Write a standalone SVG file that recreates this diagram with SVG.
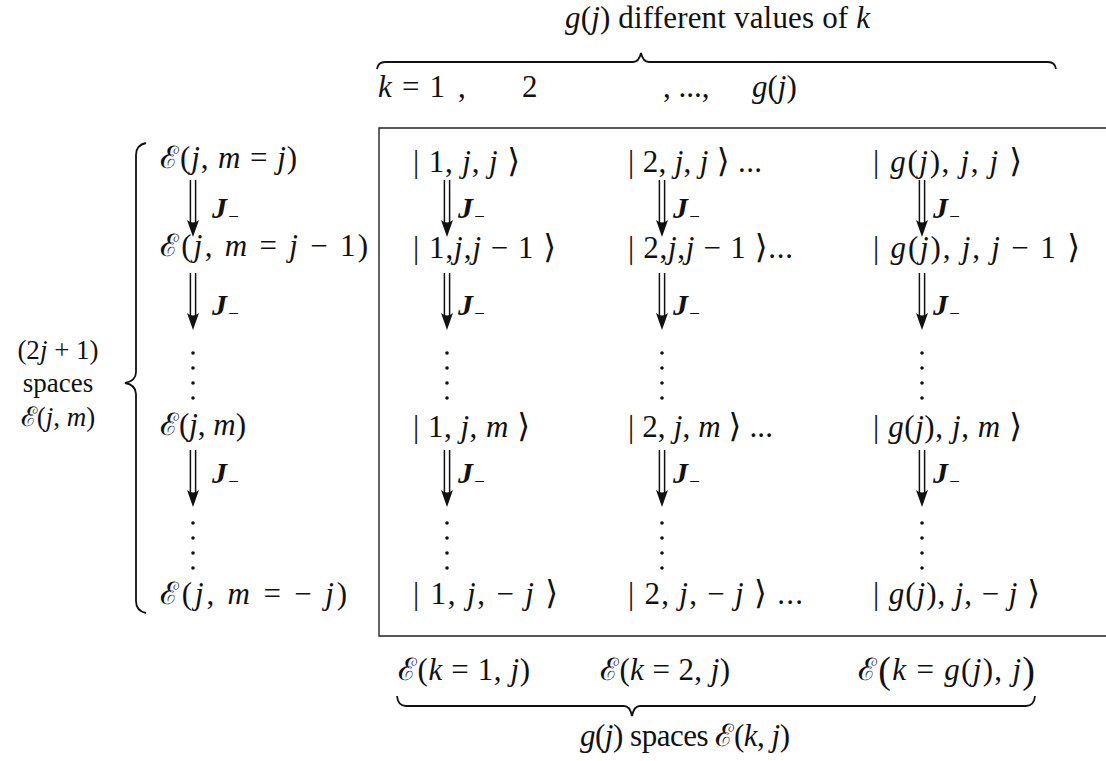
<svg xmlns="http://www.w3.org/2000/svg" width="1106" height="761" viewBox="0 0 1106 761">
<style>
text{font-family:"Liberation Serif","DejaVu Serif",serif;font-size:31px;fill:#111}
.i{font-style:italic}
.J{font-style:italic;font-weight:bold;font-size:30px}
.s{font-size:19px;font-weight:normal}
.k{font-size:33px}
.lab{font-size:27px}
.br{fill:none;stroke:#111;stroke-width:1.8}
.box{fill:none;stroke:#222;stroke-width:1.4}
.ar{fill:none;stroke:#111;stroke-width:1.5}
.ah{fill:#111;stroke:none}
.dot{fill:#111}
</style>
<defs>
<g id="dbl">
<line x1="-2.6" y1="0" x2="-2.6" y2="44" class="ar"/>
<line x1="2.6" y1="0" x2="2.6" y2="44" class="ar"/>
<path d="M-6,40 L0,57 L6,40 Q0,45 -6,40 Z" class="ah"/>
</g>
<g id="dots4">
<circle cx="0" cy="0" r="1.8" class="dot"/>
<circle cx="0" cy="15" r="1.8" class="dot"/>
<circle cx="0" cy="30" r="1.8" class="dot"/>
<circle cx="0" cy="45" r="1.8" class="dot"/>
</g>
</defs>

<g id="top-label">
<text x="565" y="28" textLength="305"><tspan class="i">g</tspan>(<tspan class="i">j</tspan>) different values of <tspan class="i">k</tspan></text>
<path class="br" d="M377,69 Q378,62 385,62 L633,62 Q639,62 641,53 Q643,62 649,62 L1048,62 Q1055,62 1056,69"/>
<text x="378" y="97" textLength="67"><tspan class="i">k</tspan> = 1</text>
<text x="458" y="97">,</text>
<text x="522" y="97">2</text>
<text x="663" y="97">, ...,</text>
<text x="752" y="97"><tspan class="i">g</tspan>(<tspan class="i">j</tspan>)</text>
</g>

<g id="box">
<path class="box" d="M1106,128 L379,128 L379,636 L1106,636"/>
</g>

<g id="left-label">
<text class="lab" x="58" y="359" text-anchor="middle">(2<tspan class="i">j</tspan> + 1)</text>
<text class="lab" x="58" y="392" text-anchor="middle">spaces</text>
<text class="lab" x="58" y="426" text-anchor="middle">ℰ(<tspan class="i">j</tspan>, <tspan class="i">m</tspan>)</text>
<path class="br" d="M146,143 Q136,145 136,155 L136,372 Q136,381 125,383 Q136,385 136,394 L136,601 Q136,611 146,613"/>
</g>

<g id="col-E">
<text x="160" y="168" textLength="137">ℰ(<tspan class="i">j</tspan>, <tspan class="i">m</tspan> = <tspan class="i">j</tspan>)</text>
<text x="160" y="256" textLength="208">ℰ(<tspan class="i">j</tspan>, <tspan class="i">m</tspan> = <tspan class="i">j</tspan> − 1)</text>
<text x="160" y="435" textLength="86">ℰ(<tspan class="i">j</tspan>, <tspan class="i">m</tspan>)</text>
<text x="160" y="604" textLength="187">ℰ(<tspan class="i">j</tspan>, <tspan class="i">m</tspan> =  − <tspan class="i">j</tspan>)</text>
<text x="212" y="218" class="J">J<tspan class="s" dy="5">−</tspan></text>
<text x="212" y="315" class="J">J<tspan class="s" dy="5">−</tspan></text>
<text x="212" y="483" class="J">J<tspan class="s" dy="5">−</tspan></text>
</g>

<g id="col-1">
<text x="413" y="172" textLength="107">| 1, <tspan class="i">j</tspan>, <tspan class="i">j</tspan> <tspan class="k">⟩</tspan></text>
<text x="413" y="258" textLength="143">| 1,<tspan class="i">j</tspan>,<tspan class="i">j</tspan> − 1 <tspan class="k">⟩</tspan></text>
<text x="413" y="437" textLength="117">| 1, <tspan class="i">j</tspan>, <tspan class="i">m</tspan> <tspan class="k">⟩</tspan></text>
<text x="413" y="604" textLength="145">| 1, <tspan class="i">j</tspan>, − <tspan class="i">j</tspan> <tspan class="k">⟩</tspan></text>
<text x="458" y="218" class="J">J<tspan class="s" dy="5">−</tspan></text>
<text x="458" y="315" class="J">J<tspan class="s" dy="5">−</tspan></text>
<text x="458" y="483" class="J">J<tspan class="s" dy="5">−</tspan></text>
</g>

<g id="col-2">
<text x="628" y="172" textLength="134">| 2, <tspan class="i">j</tspan>, <tspan class="i">j</tspan> <tspan class="k">⟩</tspan> ...</text>
<text x="628" y="258" textLength="165">| 2,<tspan class="i">j</tspan>,<tspan class="i">j</tspan> − 1 <tspan class="k">⟩</tspan>...</text>
<text x="628" y="437" textLength="145">| 2, <tspan class="i">j</tspan>, <tspan class="i">m</tspan> <tspan class="k">⟩</tspan> ...</text>
<text x="628" y="604" textLength="175">| 2, <tspan class="i">j</tspan>, − <tspan class="i">j</tspan> <tspan class="k">⟩</tspan> ...</text>
<text x="673" y="218" class="J">J<tspan class="s" dy="5">−</tspan></text>
<text x="673" y="315" class="J">J<tspan class="s" dy="5">−</tspan></text>
<text x="673" y="483" class="J">J<tspan class="s" dy="5">−</tspan></text>
</g>

<g id="col-3">
<text x="873" y="172" textLength="149">| <tspan class="i">g</tspan>(<tspan class="i">j</tspan>), <tspan class="i">j</tspan>, <tspan class="i">j</tspan> <tspan class="k">⟩</tspan></text>
<text x="873" y="258" textLength="207">| <tspan class="i">g</tspan>(<tspan class="i">j</tspan>), <tspan class="i">j</tspan>, <tspan class="i">j</tspan> − 1 <tspan class="k">⟩</tspan></text>
<text x="873" y="437" textLength="149">| <tspan class="i">g</tspan>(<tspan class="i">j</tspan>), <tspan class="i">j</tspan>, <tspan class="i">m</tspan> <tspan class="k">⟩</tspan></text>
<text x="873" y="604" textLength="167">| <tspan class="i">g</tspan>(<tspan class="i">j</tspan>), <tspan class="i">j</tspan>, − <tspan class="i">j</tspan> <tspan class="k">⟩</tspan></text>
<text x="933" y="218" class="J">J<tspan class="s" dy="5">−</tspan></text>
<text x="933" y="315" class="J">J<tspan class="s" dy="5">−</tspan></text>
<text x="933" y="483" class="J">J<tspan class="s" dy="5">−</tspan></text>
</g>

<g id="connectors">
<use href="#dbl" x="193" y="180"/>
<use href="#dbl" x="193" y="273"/>
<use href="#dbl" x="193" y="450"/>
<use href="#dbl" x="447" y="180"/>
<use href="#dbl" x="447" y="273"/>
<use href="#dbl" x="447" y="450"/>
<use href="#dbl" x="662" y="180"/>
<use href="#dbl" x="662" y="273"/>
<use href="#dbl" x="662" y="450"/>
<use href="#dbl" x="922" y="180"/>
<use href="#dbl" x="922" y="273"/>
<use href="#dbl" x="922" y="450"/>
<use href="#dots4" x="193" y="353"/>
<use href="#dots4" x="447" y="353"/>
<use href="#dots4" x="662" y="353"/>
<use href="#dots4" x="922" y="353"/>
<use href="#dots4" x="193" y="523"/>
<use href="#dots4" x="447" y="523"/>
<use href="#dots4" x="662" y="523"/>
<use href="#dots4" x="922" y="523"/>
</g>

<g id="bottom-label">
<text x="398" y="680" textLength="132">ℰ(<tspan class="i">k</tspan> = 1, <tspan class="i">j</tspan>)</text>
<text x="600" y="680" textLength="130">ℰ(<tspan class="i">k</tspan> = 2, <tspan class="i">j</tspan>)</text>
<text x="858" y="680" textLength="177">ℰ<tspan font-size="38" dy="3">(</tspan><tspan class="i" dy="-3">k</tspan> = <tspan class="i">g</tspan>(<tspan class="i">j</tspan>), <tspan class="i">j</tspan><tspan font-size="38" dy="3">)</tspan></text>
<path class="br" d="M397,696 Q398,706 406,706 L624,706 Q630,706 632,716 Q634,706 640,706 L1026,706 Q1034,706 1035,696"/>
<text x="685" y="746" text-anchor="middle" textLength="210"><tspan class="i">g</tspan>(<tspan class="i">j</tspan>) spaces ℰ(<tspan class="i">k</tspan>, <tspan class="i">j</tspan>)</text>
</g>
</svg>
